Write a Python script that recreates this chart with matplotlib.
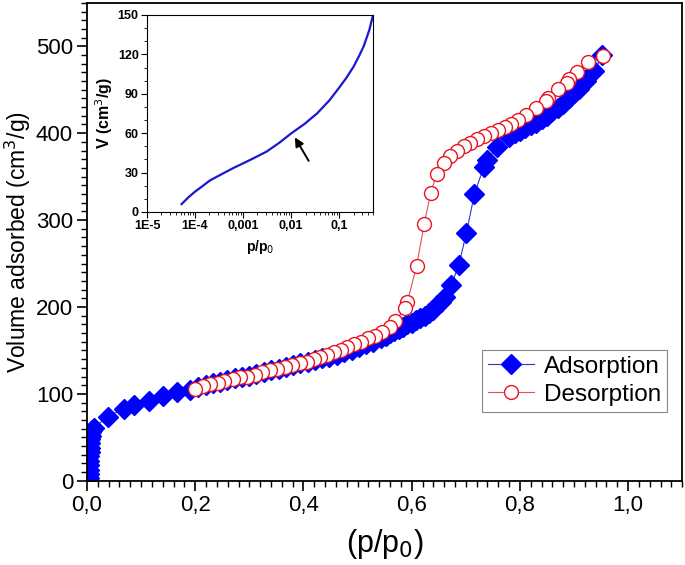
import matplotlib
matplotlib.use("Agg")
import matplotlib.pyplot as plt
from matplotlib.ticker import MultipleLocator, FixedLocator, LogLocator, NullFormatter

plt.rcParams['font.family'] = ['Liberation Sans', 'DejaVu Sans']

# isotherme - adsorption
ads_x = [0.003, 0.003, 0.003, 0.004, 0.004, 0.004, 0.005, 0.005, 0.006, 0.006, 0.007, 0.008, 0.010, 0.013,
         0.038, 0.068, 0.086, 0.115, 0.141, 0.167, 0.191,
         0.205, 0.219, 0.232, 0.246, 0.259, 0.273, 0.286, 0.300, 0.313, 0.327, 0.340, 0.354, 0.367, 0.381,
         0.394, 0.408, 0.421, 0.435, 0.448, 0.462, 0.475, 0.489, 0.502, 0.516, 0.529, 0.543,
         0.552, 0.560, 0.568, 0.576, 0.584, 0.592, 0.600, 0.608, 0.616, 0.624, 0.632, 0.640, 0.647, 0.654, 0.661,
         0.673, 0.687, 0.701, 0.716, 0.733, 0.739, 0.758, 0.780,
         0.790, 0.800, 0.810, 0.820, 0.830, 0.840, 0.850, 0.860, 0.870, 0.880, 0.890, 0.900, 0.910, 0.922, 0.937, 0.952]
ads_y = [3, 8, 13, 18, 23, 28, 33, 38, 43, 48, 52, 56, 59, 61,
         74, 83, 87, 92, 98, 102, 105,
         108, 110, 112, 114, 116, 118, 120, 121, 123, 125, 127, 129, 131, 133,
         135, 137, 139, 141, 143, 145, 148, 151, 154, 157, 160, 164,
         167, 170, 172, 175, 177, 180, 182, 185, 187, 190, 193, 197, 202, 206, 211,
         225, 248, 285, 330, 361, 369, 384, 396,
         400, 403, 406, 409, 412, 416, 420, 425, 429, 434, 440, 446, 451, 460, 471, 490]

# isotherme - desorption
des_x = [0.953, 0.925, 0.905, 0.890, 0.887, 0.871, 0.852, 0.849, 0.830, 0.812, 0.797, 0.784, 0.772, 0.760,
         0.747, 0.734, 0.721, 0.708, 0.696, 0.684, 0.671, 0.659, 0.646, 0.635, 0.623, 0.609, 0.592, 0.588,
         0.570, 0.560, 0.545, 0.532, 0.519, 0.506, 0.494, 0.481, 0.469, 0.456, 0.443, 0.431, 0.419, 0.406,
         0.393, 0.379, 0.366, 0.351, 0.338, 0.324, 0.310, 0.296, 0.282, 0.269, 0.254, 0.242, 0.227, 0.214, 0.199]
des_y = [489, 482, 470, 462, 458, 451, 441, 437, 429, 421, 415, 410, 407, 404,
         400, 397, 393, 389, 385, 379, 374, 366, 353, 331, 295, 247, 206, 199,
         184, 177, 171, 167, 164, 160, 157, 154, 151, 148, 145, 142, 140, 137,
         135, 133, 131, 129, 127, 125, 122, 120, 119, 117, 115, 113, 111, 109, 106]

# encart : zone des micropores (echelle log)
ins_x = [5.25e-5, 7.2e-5, 1e-4, 1.41e-4, 2.04e-4, 3.9e-4, 6.3e-4, 1e-3, 1.78e-3, 3.1e-3, 5.6e-3,
         0.0102, 0.019, 0.0347, 0.063, 0.102, 0.141, 0.2, 0.263, 0.324, 0.427, 0.51]
ins_y = [6, 11, 15.5, 19.5, 24, 29.5, 33.5, 37, 41.5, 46, 52.5,
         60, 67, 75, 85, 95, 102, 110.6, 119, 126, 138.6, 150]
ins_ticks = [1e-5, 1e-4, 1e-3, 1e-2, 1e-1]
ins_labels = ["1E-5", "1E-4", "0,001", "0,01", "0,1"]

main_xticks = [0.0, 0.2, 0.4, 0.6, 0.8, 1.0]
main_xlabels = ["0,0", "0,2", "0,4", "0,6", "0,8", "1,0"]

fig = plt.figure(figsize=(6.85, 5.65), dpi=100)
ax = fig.add_axes([0.127, 0.149, 0.869, 0.846])

ax.plot(ads_x, ads_y, color='#3333cc', lw=0.8, marker='D', ms=10,
        mfc='#0000ff', mec='#0000ff', label='Adsorption', zorder=2)
ax.plot(des_x, des_y, color='#e05060', lw=0.8, marker='o', ms=10,
        mfc='white', mec='#e8141e', mew=1.0, label='Desorption', zorder=3)

ax.set_xlim(0, 1.1)
ax.set_ylim(0, 550)
ax.xaxis.set_major_locator(FixedLocator(main_xticks))
ax.set_xticklabels(main_xlabels)
ax.xaxis.set_minor_locator(MultipleLocator(0.02))
ax.yaxis.set_major_locator(MultipleLocator(100))
ax.yaxis.set_minor_locator(MultipleLocator(10))
ax.tick_params(which='major', length=7, width=1.2, labelsize=16, direction='out', pad=3)
ax.tick_params(which='minor', length=4, width=1.0, direction='out')
for s in ax.spines.values():
    s.set_linewidth(1.3)

ax.set_xlabel("(p/p$_0$)", fontsize=22, labelpad=8)
ax.set_ylabel("Volume adsorbed (cm$^3$/g)", fontsize=16.5)
ax.yaxis.set_label_coords(-0.09, 0.5)

leg = ax.legend(loc='lower right', bbox_to_anchor=(0.975, 0.144), fontsize=17.5,
                fancybox=False, framealpha=1, edgecolor='#888888', handlelength=1.9,
                borderpad=0.25, labelspacing=0.25, handletextpad=0.4, borderaxespad=0)
leg.get_frame().set_linewidth(0.8)

# encart
axi = fig.add_axes([0.2146, 0.6248, 0.330, 0.3487])
axi.plot(ins_x, ins_y, color='#1818d0', lw=1.6)
axi.set_xscale('log')
axi.set_xlim(1e-5, 0.51)
axi.set_ylim(0, 150)
axi.xaxis.set_major_locator(FixedLocator(ins_ticks))
axi.set_xticklabels(ins_labels)
axi.xaxis.set_minor_locator(LogLocator(base=10, subs=range(2, 10)))
axi.xaxis.set_minor_formatter(NullFormatter())
axi.yaxis.set_major_locator(MultipleLocator(30))
axi.yaxis.set_minor_locator(MultipleLocator(10))
axi.tick_params(which='major', length=4, width=0.8, labelsize=9, pad=2)
axi.tick_params(which='minor', length=2, width=0.6)
for lab in axi.get_xticklabels() + axi.get_yticklabels():
    lab.set_fontweight('bold')
for s in axi.spines.values():
    s.set_linewidth(0.8)
axi.set_xlabel("p/p$_0$", fontsize=10, fontweight='bold', labelpad=4)
axi.set_ylabel("V (cm$^3$/g)", fontsize=11.5, fontweight='bold', labelpad=2)
axi.annotate("", xy=(0.0112, 58.6), xytext=(0.0249, 37.1),
             arrowprops=dict(arrowstyle='-|>', color='black', lw=1.4, mutation_scale=13))

fig.savefig("out.png", dpi=100)
